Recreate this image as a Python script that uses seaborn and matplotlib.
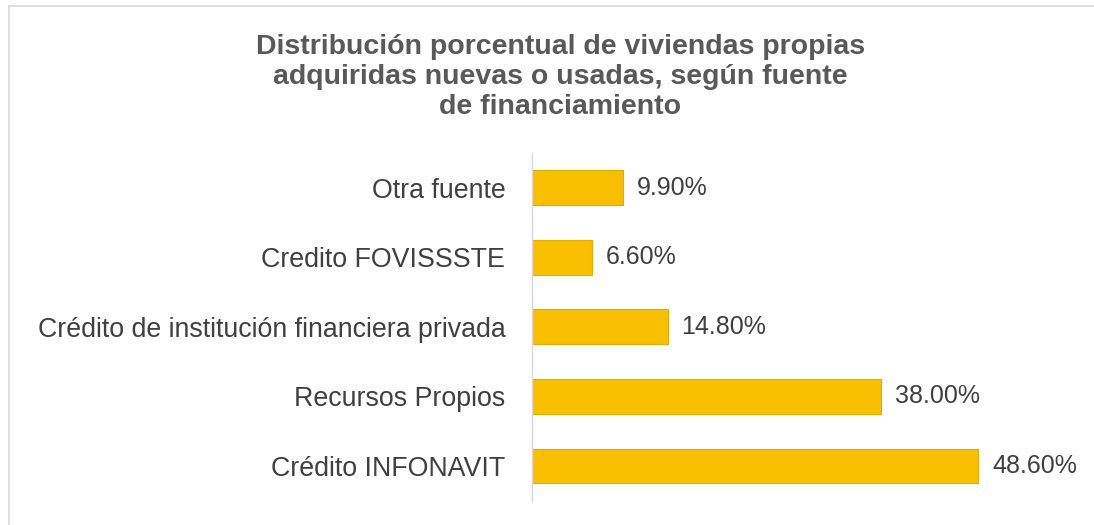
import matplotlib
matplotlib.use("Agg")
import matplotlib.pyplot as plt
import seaborn as sns
import pandas as pd
from matplotlib.patches import Rectangle

categories = ["Otra fuente", "Credito FOVISSSTE", "Crédito de institución financiera privada",
              "Recursos Propios", "Crédito INFONAVIT"]
values = [9.9, 6.6, 14.8, 38.0, 48.6]
labels = ["9.90%", "6.60%", "14.80%", "38.00%", "48.60%"]

sns.set_theme(style="white")
plt.rcParams['font.family'] = ['Liberation Sans', 'DejaVu Sans']

df = pd.DataFrame({"cat": categories, "val": values})

fig = plt.figure(figsize=(10.94, 5.25), dpi=100)
ax = fig.add_axes([0.486, 0.046, 0.504, 0.663])
sns.barplot(data=df, x="val", y="cat", color="#F8C000", width=0.5, ax=ax,
            edgecolor="#E3AC00", linewidth=0.8, saturation=1)

ax.set_xlim(0, 60)
ax.set_xlabel("")
ax.set_ylabel("")
ax.set_xticks([])
for s in ["top", "right", "bottom"]:
    ax.spines[s].set_visible(False)
ax.spines["left"].set_color("#D9D9D9")
ax.spines["left"].set_linewidth(1.0)
ax.tick_params(axis="y", length=0, pad=19, labelsize=19.3, labelcolor="#404040")

for i, (v, lab) in enumerate(zip(values, labels)):
    ax.annotate(lab, xy=(v, i), xytext=(10, 0), textcoords="offset points",
                va="center", ha="left", fontsize=18, color="#404040")

fig.text(0.512, 0.935, "Distribución porcentual de viviendas propias\nadquiridas nuevas o usadas, según fuente\nde financiamiento",
         ha="center", va="top", fontsize=20.5, fontweight="bold", color="#595959", linespacing=1.2)

fig.patches.append(Rectangle((0.008, -0.01), 0.995, 0.999, transform=fig.transFigure,
                             fill=False, edgecolor="#D9D9D9", linewidth=1.2))

fig.savefig("out.png", dpi=100)
